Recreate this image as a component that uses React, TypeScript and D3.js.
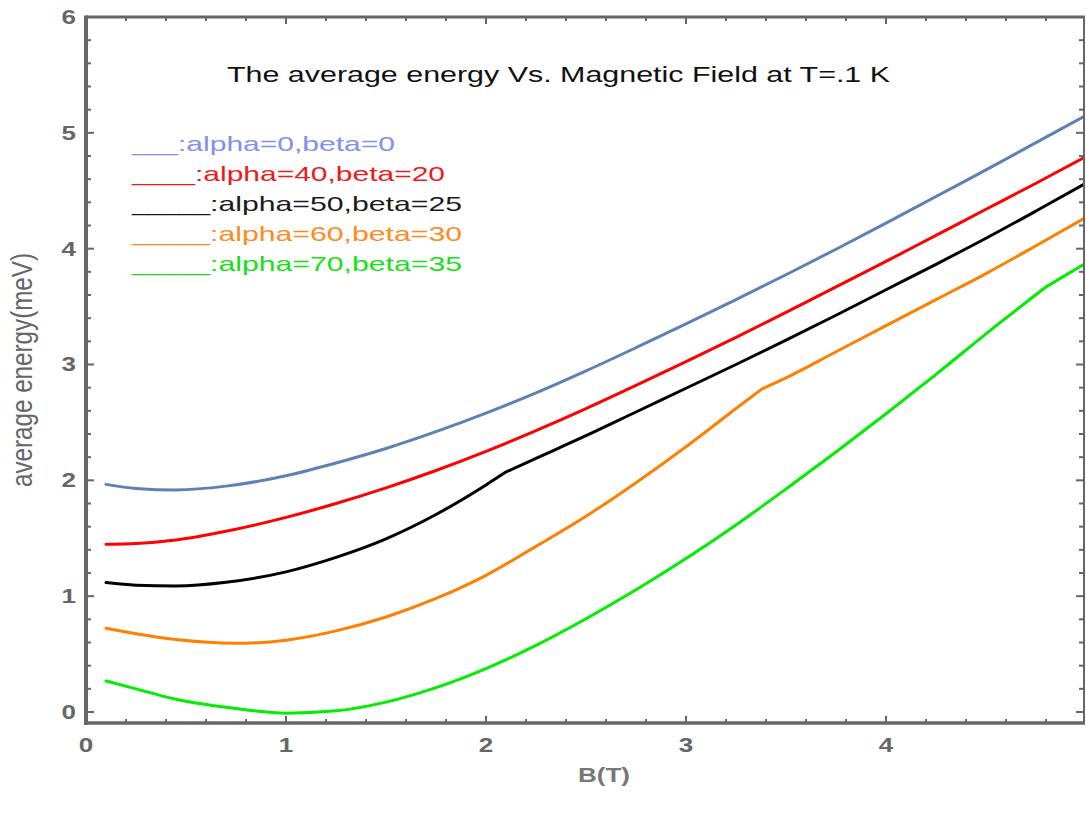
import React from 'react';
import * as d3 from 'd3';

// values: [B (T), average energy (meV)]
const series0 = [[0.1, 1.965], [0.25, 1.93], [0.45, 1.917], [0.7, 1.95], [1.0, 2.04], [1.25, 2.15], [1.5, 2.275], [1.75, 2.42], [2.0, 2.58], [2.25, 2.755], [2.5, 2.945], [2.75, 3.145], [3.0, 3.35], [3.25, 3.56], [3.5, 3.775], [3.75, 3.995], [4.0, 4.22], [4.25, 4.45], [4.5, 4.68], [4.75, 4.915], [5.0, 5.15]];
const series40 = [[0.1, 1.448], [0.25, 1.455], [0.45, 1.485], [0.7, 1.56], [1.0, 1.68], [1.25, 1.8], [1.5, 1.935], [1.75, 2.085], [2.0, 2.25], [2.25, 2.43], [2.5, 2.62], [2.75, 2.82], [3.0, 3.025], [3.25, 3.235], [3.5, 3.45], [3.75, 3.67], [4.0, 3.89], [4.25, 4.115], [4.5, 4.34], [4.75, 4.565], [5.0, 4.795]];
const series50 = [[0.1, 1.117], [0.25, 1.095], [0.45, 1.088], [0.7, 1.12], [1.0, 1.21], [1.25, 1.335], [1.5, 1.495], [1.75, 1.705], [2.0, 1.96], [2.1, 2.072], [2.25, 2.19], [2.5, 2.385], [2.75, 2.59], [3.0, 2.795], [3.25, 3.0], [3.5, 3.21], [3.75, 3.425], [4.0, 3.645], [4.25, 3.865], [4.5, 4.09], [4.75, 4.325], [5.0, 4.565]];
const series60 = [[0.1, 0.723], [0.25, 0.675], [0.45, 0.625], [0.75, 0.593], [1.0, 0.62], [1.25, 0.7], [1.5, 0.82], [1.75, 0.98], [2.0, 1.18], [2.25, 1.43], [2.5, 1.69], [2.75, 1.98], [3.0, 2.29], [3.25, 2.62], [3.38, 2.79], [3.5, 2.885], [3.75, 3.11], [4.0, 3.335], [4.25, 3.56], [4.5, 3.785], [4.75, 4.025], [5.0, 4.27]];
const series70 = [[0.1, 0.268], [0.25, 0.2], [0.45, 0.11], [0.75, 0.03], [1.0, -0.01], [1.25, 0.01], [1.5, 0.085], [1.75, 0.21], [2.0, 0.375], [2.25, 0.575], [2.5, 0.805], [2.75, 1.055], [3.0, 1.325], [3.25, 1.615], [3.5, 1.925], [3.75, 2.245], [4.0, 2.575], [4.25, 2.915], [4.5, 3.265], [4.8, 3.67], [5.0, 3.875]];

// B where a curve has a corner
const kinks = [null, null, 2.1, 3.38, 4.8];

const legendLabels = [':alpha=0,beta=0', ':alpha=40,beta=20', ':alpha=50,beta=25', ':alpha=60,beta=30', ':alpha=70,beta=35'];
const legendDashes = ['___', '____', '_____', '_____', '_____'];
const xTickValues = [0, 1, 2, 3, 4];
const yTickValues = [0, 1, 2, 3, 4, 5, 6];

const curves = [
  { data: series0, color: '#5e81b5', legendColor: '#7f8ff2' },
  { data: series40, color: '#ff0000', legendColor: '#f01818' },
  { data: series50, color: '#000000', legendColor: '#1a1a1a' },
  { data: series60, color: '#ff8000', legendColor: '#ff8a1e' },
  { data: series70, color: '#00ee00', legendColor: '#18e018' },
];

const width = 1086;
const height = 821;
const left = 86;
const right = 1084;
const top = 17;
const bottom = 723;
const axisColor = '#666666';
const stretch = 1.3;
const font = 'Liberation Sans, Arial, sans-serif';

const App = () => {
  const x = d3.scaleLinear().domain([0, 4.99]).range([left, right]);
  const y = d3.scaleLinear().domain([-0.095, 6]).range([bottom, top]);

  const line = d3.line<number[]>()
    .x(d => x(d[0]))
    .y(d => y(d[1]))
    .curve(d3.curveMonotoneX);

  // smooth pieces, split at the corner so it stays sharp
  const curvePath = (data: number[][], kink: number | null) => {
    if (kink == null) return line(data) || '';
    const a = data.filter(d => d[0] <= kink);
    const b = data.filter(d => d[0] >= kink);
    return (line(a) || '') + (line(b) || '');
  };

  const xMinor = d3.range(0, 4.99, 0.2).filter(v => Math.abs(v - Math.round(v)) > 1e-6);
  const yMinor = d3.range(0, 6, 0.2).filter(v => Math.abs(v - Math.round(v)) > 1e-6);

  return (
    <div style={{ position: 'absolute', left: 0, top: 0 }}>
      <svg width={width} height={height} style={{ display: 'block', background: '#fff' }}>
        <defs>
          <clipPath id="plot">
            <rect x={left} y={top} width={right - left} height={bottom - top} />
          </clipPath>
        </defs>

        {/* curves */}
        <g clipPath="url(#plot)" fill="none" strokeWidth={3} strokeLinejoin="round" strokeLinecap="round">
          {curves.map((c, i) => (
            <path key={i} d={curvePath(c.data, kinks[i])} stroke={c.color} />
          ))}
        </g>

        {/* ticks */}
        <g stroke={axisColor} strokeWidth={2}>
          {xTickValues.map(v => (
            <g key={'xt' + v}>
              <line x1={x(v)} x2={x(v)} y1={bottom} y2={bottom - 7} />
              <line x1={x(v)} x2={x(v)} y1={top} y2={top + 7} />
            </g>
          ))}
          {xMinor.map(v => (
            <g key={'xm' + v}>
              <line x1={x(v)} x2={x(v)} y1={bottom} y2={bottom - 4} />
              <line x1={x(v)} x2={x(v)} y1={top} y2={top + 4} />
            </g>
          ))}
          {yTickValues.map(v => (
            <g key={'yt' + v}>
              <line x1={left} x2={left + 8} y1={y(v)} y2={y(v)} />
              <line x1={right} x2={right - 8} y1={y(v)} y2={y(v)} />
            </g>
          ))}
          {yMinor.map(v => (
            <g key={'ym' + v}>
              <line x1={left} x2={left + 5} y1={y(v)} y2={y(v)} />
              <line x1={right} x2={right - 5} y1={y(v)} y2={y(v)} />
            </g>
          ))}
        </g>

        {/* frame */}
        <g stroke={axisColor} fill="none">
          <line x1={left} x2={left} y1={top - 1.5} y2={bottom + 2} strokeWidth={4} />
          <line x1={left - 2} x2={right + 1} y1={bottom} y2={bottom} strokeWidth={3.5} />
          <line x1={left} x2={right + 1} y1={top} y2={top} strokeWidth={3} />
          <line x1={right} x2={right} y1={top} y2={bottom} strokeWidth={2} />
        </g>

        {/* tick labels */}
        <g fill={axisColor} fontFamily={font} fontWeight="bold" fontSize={20}>
          {xTickValues.map(v => (
            <g key={'xl' + v} transform={`translate(${x(v)},${bottom + 29}) scale(${stretch},1)`}>
              <text textAnchor="middle">{v}</text>
            </g>
          ))}
          {yTickValues.map(v => (
            <g key={'yl' + v} transform={`translate(76,${y(v) + 7}) scale(${stretch},1)`}>
              <text textAnchor="end">{v}</text>
            </g>
          ))}
        </g>

        {/* axis labels */}
        <g transform={`translate(604,782) scale(${stretch},1)`}>
          <text textAnchor="middle" fill="#777" fontFamily={font} fontWeight="bold" fontSize={20}>B(T)</text>
        </g>
        <g transform={`translate(32,370) scale(${stretch},1) rotate(-90)`}>
          <text textAnchor="middle" fill={axisColor} fontFamily={font} fontSize={22}
            textLength={234} lengthAdjust="spacingAndGlyphs">average energy(meV)</text>
        </g>

        {/* title */}
        <text x={227} y={82} fill="#111" fontFamily={font} fontSize={22}
          textLength={663} lengthAdjust="spacingAndGlyphs">The average energy Vs. Magnetic Field at T=.1 K</text>

        {/* legend */}
        <g fontFamily={font} fontSize={21}>
          {legendLabels.map((label, i) => {
            const dashEnd = [178, 195, 210, 210, 210][i];
            const textEnd = [395, 445, 462, 462, 462][i];
            const baseY = 151 + i * 30;
            return (
              <g key={label} fill={curves[i].legendColor}>
                <text x={132} y={baseY} textLength={dashEnd - 132} lengthAdjust="spacingAndGlyphs">{legendDashes[i]}</text>
                <text x={dashEnd} y={baseY} textLength={textEnd - dashEnd} lengthAdjust="spacingAndGlyphs">{label}</text>
              </g>
            );
          })}
        </g>
      </svg>
    </div>
  );
};

export default App;
